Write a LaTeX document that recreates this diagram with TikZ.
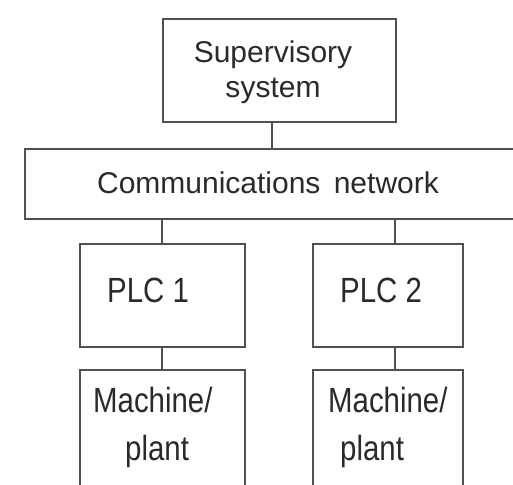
\documentclass[tikz,border=0pt]{standalone}
\usepackage{fontspec}
\setmainfont{Liberation Sans}
\newfontfamily\narrowsans[FakeStretch=0.84]{Liberation Sans}
\definecolor{edge}{HTML}{505050}
\definecolor{ink}{HTML}{2A2A2A}
\begin{document}
\begin{tikzpicture}[x=1pt,y=-1pt,
  box/.style={draw=edge, line width=1.8pt, fill=white, inner sep=0pt, anchor=north west},
  lbl/.style={text=ink, inner sep=0pt, font=\fontsize{30}{34}\selectfont},
  nlbl/.style={text=ink, inner sep=0pt, font=\narrowsans\fontsize{35}{40}\selectfont},
  link/.style={draw=edge, line width=1.6pt}]
\useasboundingbox (0,0) rectangle (513,484);
\begin{scope}
\clip (0,0) rectangle (513,484);
% boxes (top-left corner, size)
\node[box, minimum width=233pt, minimum height=103pt] (sup) at (162,18) {};
\node[box, minimum width=500pt, minimum height=70pt] (net) at (24,148) {};
\node[box, minimum width=165pt, minimum height=103pt] (plc1) at (79,243) {};
\node[box, minimum width=150pt, minimum height=103pt] (plc2) at (312,243) {};
\node[box, minimum width=165pt, minimum height=140pt] (mp1) at (79,369) {};
\node[box, minimum width=150pt, minimum height=140pt] (mp2) at (312,369) {};
% drop points of the vertical links
\coordinate (t0) at (272,0);
\coordinate (t1) at (162,0);
\coordinate (t2) at (395,0);
% connectors
\draw[link] (t0 |- sup.south) -- (t0 |- net.north);
\draw[link] (t1 |- net.south) -- (t1 |- plc1.north);
\draw[link] (t2 |- net.south) -- (t2 |- plc2.north);
\draw[link] (t1 |- plc1.south) -- (t1 |- mp1.north);
\draw[link] (t2 |- plc2.south) -- (t2 |- mp2.north);
% labels
\node[lbl, anchor=base] (supA) at (273,63) {Supervisory};
\node[lbl, anchor=base] (supB) at (273,97) {system};
\node[lbl, anchor=base] (netL) at (268,193) {Communications\hspace{5pt} network};
\node[nlbl, anchor=base west] (plc1L) at (107,302) {PLC 1};
\node[nlbl, anchor=base west] (plc2L) at (340,302) {PLC 2};
\node[nlbl, anchor=base west] (mp1A) at (93,412) {Machine/};
\node[nlbl, anchor=base west] (mp1B) at (125,460) {plant};
\node[nlbl, anchor=base west] (mp2A) at (328,412) {Machine/};
\node[nlbl, anchor=base west] (mp2B) at (340,460) {plant};
\end{scope}
\end{tikzpicture}
\end{document}
